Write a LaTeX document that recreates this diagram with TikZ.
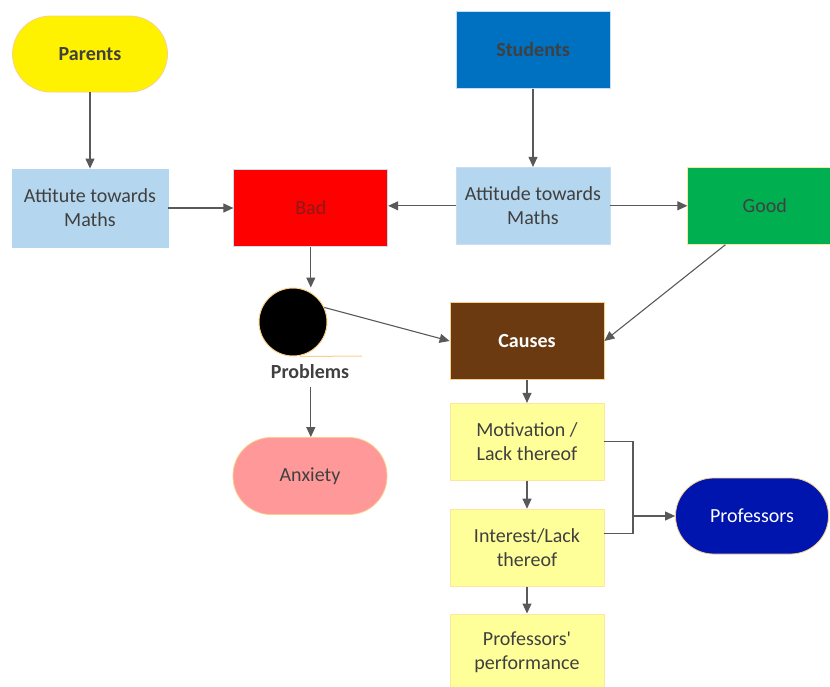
\documentclass[tikz,border=0pt]{standalone}
\usepackage{fontspec}
\setmainfont{Carlito}[Ligatures=TeXOff]
\usetikzlibrary{arrows.meta, positioning}

\definecolor{txtgrey}{HTML}{404040}
\definecolor{linegrey}{HTML}{595959}
\definecolor{edgeorange}{HTML}{F8D08A}
\definecolor{edgeblue}{HTML}{C9DDF0}
\definecolor{skyfill}{HTML}{B4D6EE}
\definecolor{studblue}{HTML}{0070C0}
\definecolor{goodgreen}{HTML}{00B050}
\definecolor{anxpink}{HTML}{FF9999}
\definecolor{causebrown}{HTML}{6B3A10}
\definecolor{paleyellow}{HTML}{FFFF99}
\definecolor{edgeyellow}{HTML}{FFE69A}
\definecolor{profblue}{HTML}{0014AE}
\definecolor{badtext}{HTML}{8B1A1A}

\begin{document}
\begin{tikzpicture}[
  x=1pt, y=1pt,
  every node/.style={font=\fontsize{20}{24}\selectfont, text=txtgrey},
  box/.style={draw=edgeblue, line width=0.8pt, align=center, minimum width=154pt, minimum height=77pt, inner sep=2pt},
  pill/.style={box, rounded corners=38pt},
  arrow/.style={-{Triangle[length=10pt, width=9pt]}, draw=linegrey, line width=1.1pt},
]
  \useasboundingbox (0,0) rectangle (830,-686);

  % top row
  \node[pill, fill=yellow, draw=edgeorange, minimum width=155pt, minimum height=76pt] (parents) at (90,-54) {\textbf{Parents}};
  \node[box, fill=skyfill, draw=skyfill, minimum width=156pt, minimum height=78pt] (attl) at (90,-208) {Attitute towards\\Maths};
  \node[box, fill=red, text=badtext, right=65pt of attl] (bad) {Bad};
  \node[box, fill=studblue, draw=edgeblue] (students) at (533,-50) {\textbf{Students}};
  \node[box, fill=skyfill, draw=edgeblue, below=78pt of students] (attr) {Attitude towards\\Maths};
  \node[box, fill=goodgreen, draw=edgeyellow, right=77pt of attr] (good) {Good};

  % problems branch
  \node[circle, fill=black, draw=edgeorange, line width=1pt, minimum size=68pt, inner sep=0pt] (prob) at (293,-322) {};
  \coordinate (probline) at (362,-356);
  \node (problabel) at (310,-372) {\textbf{Problems}};
  \node[pill, fill=anxpink, draw=edgeorange] (anxiety) at (310,-476) {Anxiety};

  % causes column
  \node[box, fill=causebrown, draw=edgeorange, text=white] (causes) at (527,-341) {\textbf{Causes}};
  \node[box, fill=paleyellow, draw=edgeyellow, below=23pt of causes] (motiv) {Motivation /\\Lack thereof};
  \node[box, fill=paleyellow, draw=edgeyellow, below=28pt of motiv] (interest) {Interest/Lack\\thereof};
  \node[box, fill=paleyellow, draw=edgeyellow, below=27pt of interest] (perf) {Professors'\\performance};
  \node[pill, fill=profblue, draw=edgeorange, text=white, minimum width=153pt, minimum height=76pt] (profs) at (752,-516) {Professors};
  \coordinate (join) at (633,-516);

  \draw[arrow] (parents) -- (attl);
  \draw[arrow] (attl) -- (bad);
  \draw[arrow] (students) -- (attr);
  \draw[arrow] (attr.west) -- (attr.west -| bad.east);
  \draw[arrow] (attr) -- (good);
  \draw[arrow] (bad.south) -- (bad.south |- prob.north);
  \draw[edgeorange, line width=1pt] (prob.south) ++(7,0) -- (probline);
  \draw[arrow] (prob.25) -- (causes.west);
  \draw[arrow] (good.south west) ++(38,0) -- (causes.east);
  \draw[arrow] (problabel.south -| bad.south) ++(0,-4) -- (anxiety.north -| bad.south);
  \draw[arrow] (causes) -- (motiv);
  \draw[arrow] (motiv) -- (interest);
  \draw[arrow] (interest) -- (perf);
  \draw[linegrey, line width=1.1pt] (motiv.east) -| (join) |- ([yshift=14pt]interest.east);
  \draw[arrow] (join) -- (profs);
\end{tikzpicture}
\end{document}
